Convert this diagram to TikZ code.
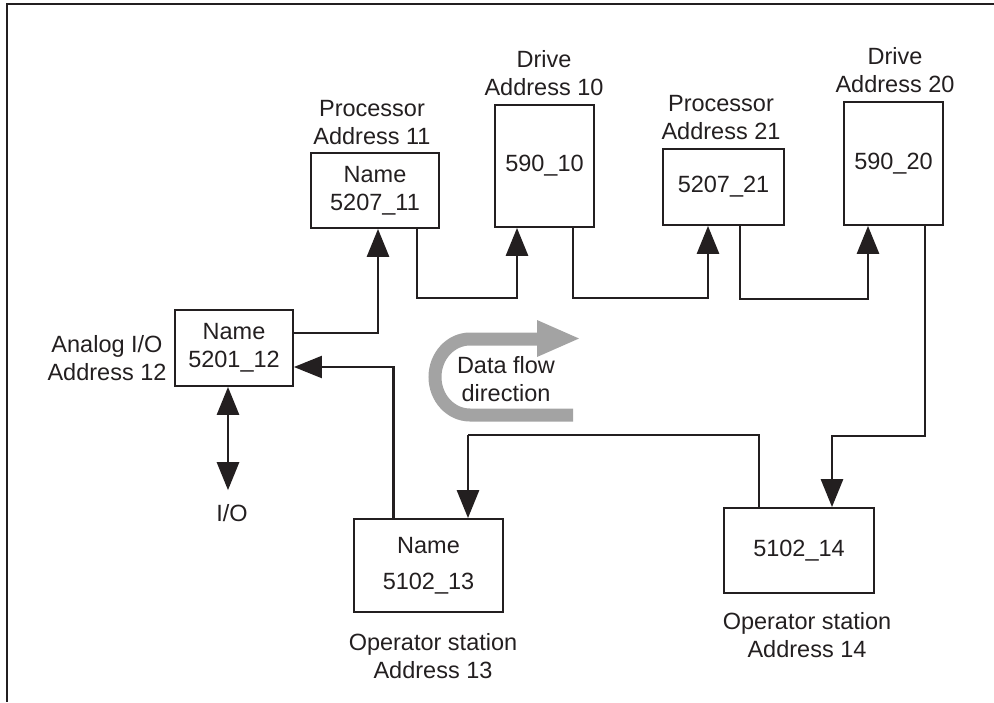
\documentclass[tikz,border=0pt]{standalone}
\usepackage{fontspec}
\setmainfont{Liberation Sans}
\usetikzlibrary{arrows.meta}
\definecolor{ink}{HTML}{231F20}
\definecolor{flow}{HTML}{A3A3A3}
\begin{document}
\begin{tikzpicture}[x=1pt,y=-1pt,
  font=\fontsize{23.5}{28}\selectfont, text=ink,
  box/.style={draw=ink, line width=1.8pt, inner sep=0pt, align=center},
  lbl/.style={inner sep=0pt, align=center},
  conn/.style={draw=ink, line width=2.8pt},
  thinconn/.style={draw=ink, line width=2.2pt},
  tip/.style={-{Triangle[length=28pt,width=22pt]}}]
\useasboundingbox (0,0) rectangle (994,702);
% frame
\draw[ink, line width=2pt] (994,3.5) -- (7,3.5) -- (7,702);
% boxes
\node[box, minimum width=128pt, minimum height=75pt]  (p11) at (375,190.5) {Name\\5207\_11};
\node[box, minimum width=99pt,  minimum height=122pt] (d10) at (544.5,166) {590\_10};
\node[box, minimum width=121pt, minimum height=76pt]  (p21) at (723.5,187) {5207\_21};
\node[box, minimum width=99pt,  minimum height=123pt] (d20) at (893.5,163.5) {590\_20};
\node[box, minimum width=118pt, minimum height=76pt]  (aio) at (234,348) {Name\\5201\_12};
\node[box, minimum width=149pt, minimum height=93pt]  (os13) at (428.5,565.5) {Name\\[8pt]5102\_13};
\node[box, minimum width=150pt, minimum height=85pt]  (os14) at (799,550.5) {5102\_14};
% labels
\node[lbl] (lp11) at (372,123) {Processor\\Address 11};
\node[lbl] (ld10) at (544,73) {Drive\\Address 10};
\node[lbl] (lp21) at (721,118) {Processor\\Address 21};
\node[lbl] (ld20) at (895,70) {Drive\\Address 20};
\node[lbl] (laio) at (107,358) {Analog I/O\\Address 12};
\node[lbl] (los13) at (433,656) {Operator station\\Address 13};
\node[lbl] (los14) at (807,635) {Operator station\\Address 14};
\node[lbl] (io) at (232,513) {I/O};
\node[lbl] (flowtxt) at (506,379) {Data flow\\direction};
% data flow arrow
\draw[flow, line width=13pt] (573,415) -- (470,415)
  arc[start angle=90, end angle=270, x radius=35, y radius=38] -- (538,339);
\fill[flow] (537,320) -- (579,338.5) -- (537,357) -- cycle;
% connectors
\draw[conn,tip] ([yshift=15pt]aio.east) -| ([xshift=3pt]p11.south);
\draw[conn,tip] ([xshift=42pt]p11.south) -- ++(0,69) -| ([xshift=-27.5pt]d10.south);
\draw[conn,tip] ([xshift=28.5pt]d10.south) -- ++(0,70) -| ([xshift=-15.5pt]p21.south);
\draw[conn,tip] ([xshift=16.5pt]p21.south) -- ++(0,73) -| ([xshift=-25.5pt]d20.south);
\draw[conn,tip] ([xshift=31.5pt]d20.south) -- ++(0,210) -| ([xshift=33pt]os14.north);
\coordinate (r13) at (468,435);
\draw[thinconn] ([xshift=-40pt]os14.north) |- (r13);
\draw[conn,tip] (r13) -- ([xshift=39.5pt]os13.north);
\draw[thinconn,tip] ([xshift=-35pt]os13.north) |- ([yshift=-19pt]aio.east);
\draw[conn,{Triangle[length=28pt,width=22pt]}-{Triangle[length=28pt,width=22pt]}]
  ([xshift=-6pt]aio.south) -- ([xshift=-4pt,yshift=14pt]io.north);
\end{tikzpicture}
\end{document}
